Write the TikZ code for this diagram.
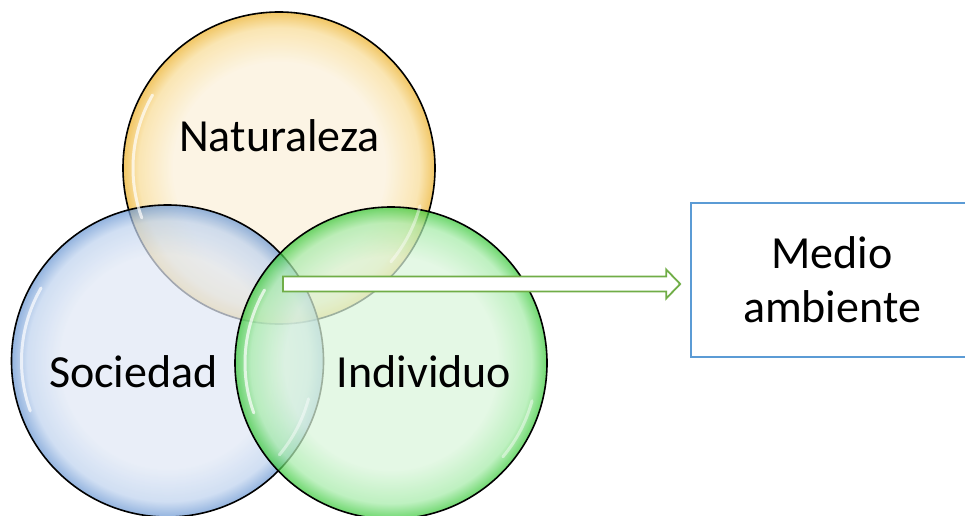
\documentclass[tikz,border=0pt]{standalone}
\usepackage{fontspec}
\setmainfont{Carlito}
\usetikzlibrary{calc}

% bubble colours: light centre, tinted rim
\definecolor{yIn}{RGB}{251,240,217}
\definecolor{yMid}{RGB}{248,220,150}
\definecolor{yEdge}{RGB}{236,176,40}
\definecolor{bIn}{RGB}{225,232,245}
\definecolor{bMid}{RGB}{190,210,238}
\definecolor{bEdge}{RGB}{105,150,210}
\definecolor{gIn}{RGB}{218,245,219}
\definecolor{gMid}{RGB}{165,235,168}
\definecolor{gEdge}{RGB}{55,200,55}
\definecolor{arrowGreen}{RGB}{112,173,71}
\definecolor{boxBlue}{RGB}{91,155,213}

\pgfdeclareradialshading{bubY}{\pgfpoint{0bp}{0bp}}{color(0bp)=(yIn); color(17bp)=(yIn); color(22.5bp)=(yMid); color(25bp)=(yEdge); color(50bp)=(yEdge)}
\pgfdeclareradialshading{bubB}{\pgfpoint{0bp}{0bp}}{color(0bp)=(bIn); color(17bp)=(bIn); color(22.5bp)=(bMid); color(25bp)=(bEdge); color(50bp)=(bEdge)}
\pgfdeclareradialshading{bubG}{\pgfpoint{0bp}{0bp}}{color(0bp)=(gIn); color(17bp)=(gIn); color(22.5bp)=(gMid); color(25bp)=(gEdge); color(50bp)=(gEdge)}

\tikzset{
  bubble/.style={circle, minimum size=312pt, inner sep=0pt, draw=black, line width=1.6pt, fill opacity=0.72},
  gloss/.style={white, line width=3pt, opacity=0.7, line cap=round},
  label/.style={font=\fontsize{46}{54}\selectfont, text=black, inner sep=0pt},
  envbox/.style={draw=boxBlue, line width=1.6pt, fill=white, minimum width=282pt, minimum height=154pt, align=center, font=\fontsize{46}{54}\selectfont, inner sep=0pt},
  blockarrow/.style={draw=arrowGreen, line width=1.8pt, fill=white, line join=miter},
}

\begin{document}
\begin{tikzpicture}[x=1pt,y=1pt]
\useasboundingbox (0,0) rectangle (965,515);

% the three overlapping spheres
\node[bubble, shading=bubY] (nat) at (279,347) {};
\node[bubble, shading=bubB] (soc) at (167.5,154) {};
\node[bubble, shading=bubG] (ind) at (391,152) {};

% glossy highlights on the rims
\draw[gloss] ($(nat.center)+(150:146)$) arc[start angle=150, end angle=200, radius=146];
\draw[gloss, opacity=0.45] ($(nat.center)+(-40:146)$) arc[start angle=-40, end angle=-15, radius=146];
\draw[gloss] ($(soc.center)+(150:146)$) arc[start angle=150, end angle=200, radius=146];
\draw[gloss, opacity=0.45] ($(soc.center)+(-40:146)$) arc[start angle=-40, end angle=-15, radius=146];
\draw[gloss] ($(ind.center)+(150:146)$) arc[start angle=150, end angle=200, radius=146];
\draw[gloss, opacity=0.45] ($(ind.center)+(-40:146)$) arc[start angle=-40, end angle=-15, radius=146];

% circle captions
\node[label, anchor=base] (natlabel) at (279.5,363) {Naturaleza};
\node[label, anchor=base] (soclabel) at (133.5,128) {Sociedad};
\node[label, anchor=base] (indlabel) at (424,128) {Individuo};

% result box
\node[envbox] (env) at (832,235) {Medio\\ambiente};

% block arrow from the common intersection to the box
\coordinate (src) at (283,231);
\coordinate (tip) at ($(env.west |- src)+(-10,0)$);
\draw[blockarrow]
  ($(src)+(0,7.5)$) -- ($(tip)+(-14,7.5)$) -- ($(tip)+(-14,14.5)$) -- (tip)
  -- ($(tip)+(-14,-14.5)$) -- ($(tip)+(-14,-7.5)$) -- ($(src)+(0,-7.5)$) -- cycle;
\end{tikzpicture}
\end{document}
